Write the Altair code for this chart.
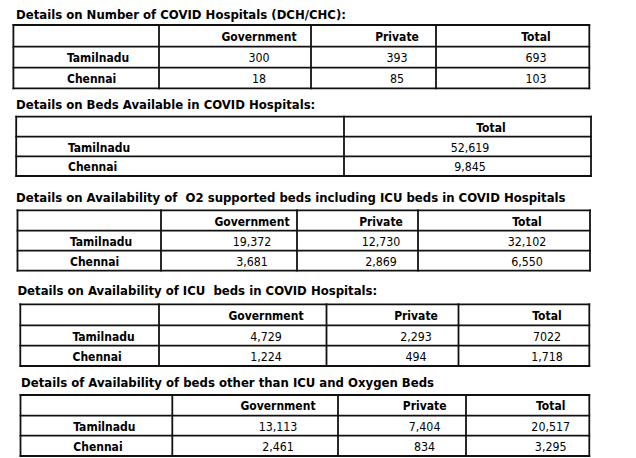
import altair as alt
import pandas as pd

# ---------------- data ----------------
titles = [
    "Details on Number of COVID Hospitals (DCH/CHC):",
    "Details on Beds Available in COVID Hospitals:",
    "Details on Availability of \u00a0O2 supported beds including ICU beds in COVID Hospitals",
    "Details on Availability of ICU \u00a0beds in COVID Hospitals:",
    "Details of Availability of beds other than ICU and Oxygen Beds",
]
headers = [
    ["Government", "Private", "Total"],
    ["Total"],
    ["Government", "Private", "Total"],
    ["Government", "Private", "Total"],
    ["Government", "Private", "Total"],
]
row_labels = ["Tamilnadu", "Chennai"]
values = [
    [["300", "393", "693"], ["18", "85", "103"]],
    [["52,619"], ["9,845"]],
    [["19,372", "12,730", "32,102"], ["3,681", "2,869", "6,550"]],
    [["4,729", "2,293", "7022"], ["1,224", "494", "1,718"]],
    [["13,113", "7,404", "20,517"], ["2,461", "834", "3,295"]],
]

# ---------------- layout (page pixel coordinates) ----------------
title_pos = [(16, 14.3), (16, 104.3), (16, 197.3), (17.4, 290.3), (21, 382)]
row_lines = [
    [25, 46.7, 67.7, 88.3],
    [116.7, 136.7, 156.3, 176],
    [210.3, 230.7, 250.7, 270.7],
    [304.3, 325.3, 345.7, 366],
    [395, 415.7, 435.7, 456],
]
col_lines = [
    [13.4, 159, 311, 436, 589.3],
    [16.2, 344, 591],
    [17.5, 161, 297, 418, 590],
    [20.3, 159, 326.5, 458.5, 589.3],
    [20.5, 172.3, 338, 466, 589.3],
]
header_x = [[259, 397, 536], [491], [252, 381, 527], [266, 416, 547], [278, 424.6, 550.7]]
value_x = [[259, 397, 536], [470], [252, 381, 527], [266, 416, 547], [278, 424.6, 550.7]]
label_x = [67, 68, 70, 72.5, 73.3]

# ---------------- build tables ----------------
rules, title_rows, head_rows, label_rows, val_rows = [], [], [], [], []
for t in range(5):
    rl, cl = row_lines[t], col_lines[t]
    for r in rl:
        rules.append(dict(x=cl[0], x2=cl[-1], y=r, y2=r))
    for c in cl:
        rules.append(dict(x=c, x2=c, y=rl[0], y2=rl[-1]))
    title_rows.append(dict(x=title_pos[t][0], y=title_pos[t][1], text=titles[t]))
    hy = (rl[0] + rl[1]) / 2
    for h, hx in zip(headers[t], header_x[t]):
        head_rows.append(dict(x=hx, y=hy, text=h))
    for i, lab in enumerate(row_labels):
        ry = (rl[i + 1] + rl[i + 2]) / 2
        label_rows.append(dict(x=label_x[t], y=ry, text=lab))
        for v, vx in zip(values[t][i], value_x[t]):
            val_rows.append(dict(x=vx, y=ry, text=v))

W, H = 620, 450
xs = alt.Scale(domain=[8, 8 + W], nice=False, zero=False)
ys = alt.Scale(domain=[8, 8 + H], nice=False, zero=False, reverse=True)
FONT = "DejaVu Sans Condensed, DejaVu Sans"


def txt(rows, align, weight, size=12):
    return alt.Chart(pd.DataFrame(rows)).mark_text(
        align=align, baseline="middle", font=FONT, fontSize=size,
        fontWeight=weight, color="#000000", dy=1
    ).encode(
        x=alt.X("x:Q", scale=xs, axis=None),
        y=alt.Y("y:Q", scale=ys, axis=None),
        text="text:N",
    )


rule_layer = alt.Chart(pd.DataFrame(rules)).mark_rule(
    color="#111111", strokeWidth=1.8, strokeCap="square"
).encode(
    x=alt.X("x:Q", scale=xs, axis=None),
    x2="x2:Q",
    y=alt.Y("y:Q", scale=ys, axis=None),
    y2="y2:Q",
)

chart = alt.layer(
    rule_layer,
    txt(title_rows, "left", "bold", 13),
    txt(head_rows, "center", "bold"),
    txt(label_rows, "left", "bold"),
    txt(val_rows, "center", "normal", 12.3),
).properties(
    width=W, height=H, padding=0, autosize="none", background="white"
).configure_view(stroke=None)

chart.save("out.html", embed_options={"renderer": "svg", "actions": False})
